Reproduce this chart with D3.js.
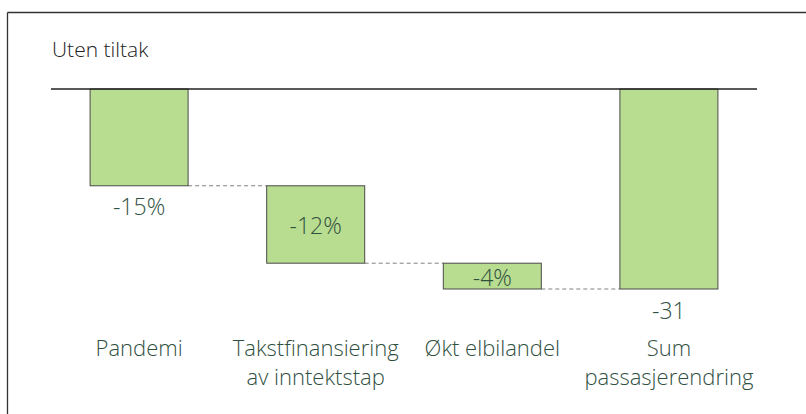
<!DOCTYPE html>
<html>
<head>
<meta charset="utf-8">
<script src="https://cdn.jsdelivr.net/npm/d3@7"></script>
<style>
  body { margin: 0; background: #fff; }
  svg text { font-family: "Open Sans", "Noto Sans", sans-serif; font-weight: 300; }
</style>
</head>
<body>
<svg id="chart" width="806" height="414"></svg>
<script>
var title = "Uten tiltak";
var categories = [["Pandemi"], ["Takstfinansiering", "av inntektstap"], ["Økt elbilandel"], ["Sum", "passasjerendring"]];
var values = [-15, -12, -4, -31];
var valueLabels = ["-15%", "-12%", "-4%", "-31"];
var isTotal = [false, false, false, true];
var labelInside = [false, true, true, false];

var svg = d3.select("svg#chart");
var textColor = "#30503f";

// frame
svg.append("line").attr("x1", 7.5).attr("x2", 806).attr("y1", 12.5).attr("y2", 12.5)
  .attr("stroke", "#333").attr("stroke-width", 1.3);
svg.append("line").attr("x1", 7.5).attr("x2", 7.5).attr("y1", 12.5).attr("y2", 414)
  .attr("stroke", "#333").attr("stroke-width", 1.3);

svg.append("text").attr("x", 52).attr("y", 57)
  .attr("font-size", 21).attr("font-weight", 400).attr("fill", "#222").text(title);

// running totals
var steps = [];
var run = 0;
values.forEach(function(v, i) {
  if (isTotal[i]) { steps.push({start: 0, end: v}); run = v; }
  else { steps.push({start: run, end: run + v}); run += v; }
});

var x = d3.scaleBand().domain(d3.range(values.length)).range([11.5, 796.5]).padding(0.445);
var y = d3.scaleLinear().domain([0, -31]).range([89, 289]);

// connectors
for (var i = 0; i < steps.length - 1; i++) {
  svg.append("line")
    .attr("x1", x(i) + x.bandwidth()).attr("x2", x(i + 1))
    .attr("y1", y(steps[i].end)).attr("y2", y(steps[i].end))
    .attr("stroke", "#808080").attr("stroke-width", 1).attr("stroke-dasharray", "4,3");
}

svg.selectAll("rect.bar").data(steps).enter().append("rect")
  .attr("class", "bar")
  .attr("x", function(d, i) { return x(i); })
  .attr("y", function(d) { return y(Math.max(d.start, d.end)); })
  .attr("width", x.bandwidth())
  .attr("height", function(d) { return Math.abs(y(d.end) - y(d.start)); })
  .attr("fill", "#b8dc90")
  .attr("stroke", "#4a4a4a").attr("stroke-width", 1);

// baseline
svg.append("line").attr("x1", 51).attr("x2", 757).attr("y1", y(0)).attr("y2", y(0))
  .attr("stroke", "#222").attr("stroke-width", 1.5);

// value labels
svg.selectAll("text.val").data(steps).enter().append("text")
  .attr("class", "val")
  .attr("x", function(d, i) { return x(i) + x.bandwidth() / 2; })
  .attr("y", function(d, i) {
    var lo = Math.min(d.start, d.end), hi = Math.max(d.start, d.end);
    return labelInside[i] ? (y(lo) + y(hi)) / 2 + 9.5 : y(lo) + 29.5;
  })
  .attr("text-anchor", "middle").attr("font-size", 23).attr("fill", textColor)
  .text(function(d, i) { return valueLabels[i]; });

// category labels
categories.forEach(function(lines, i) {
  var t = svg.append("text").attr("text-anchor", "middle").attr("font-size", 22).attr("fill", textColor);
  lines.forEach(function(s, j) {
    t.append("tspan").attr("x", x(i) + x.bandwidth() / 2).attr("y", 356 + j * 28.5).text(s);
  });
});
</script>
</body>
</html>
